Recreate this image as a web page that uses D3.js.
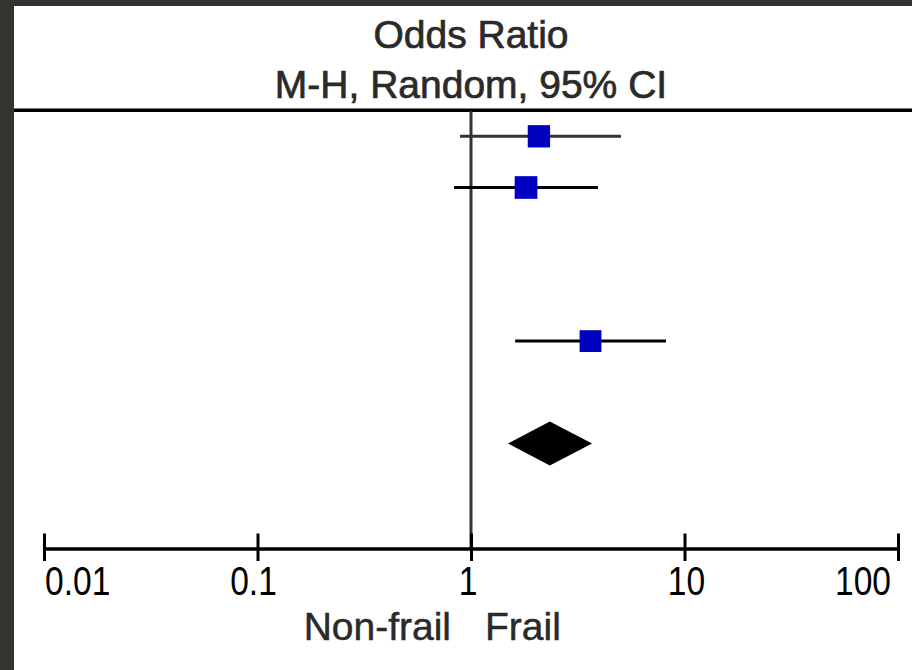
<!DOCTYPE html>
<meta charset="utf-8">
<script src="https://d3js.org/d3.v7.min.js"></script>
<style>
  body { margin: 0; background: #fff; }
  text { font-family: "Liberation Sans", Arial, sans-serif; }
</style>
<div id="forest"></div>
<script>
// study rows (row index in the plot), odds ratios and 95% CI
var studyRows = [0, 1, 4];
var oddsRatio = [2.08, 1.81, 3.63];
var ciLower   = [0.888, 0.833, 1.61];
var ciUpper   = [5.04, 3.93, 8.19];
var weights   = [33.5, 34.5, 32.0];

// pooled estimate (diamond)
var totalRow = 6;
var totalOR = [1.49, 2.34, 3.69]; // lower, estimate, upper

var tickValues = [0.01, 0.1, 1, 10, 100];
var tickLabels = ["0.01", "0.1", "1", "10", "100"];
var headerLines = ["Odds Ratio", "M-H, Random, 95% CI"];
var favourLabels = ["Non-frail", "Frail"];

var width = 912, height = 670;

var svg = d3.select("#forest")
  .append("svg")
    .attr("width", width)
    .attr("height", height);

// dark frame on the left and top
svg.append("rect").attr("x", 0).attr("y", 0).attr("width", width).attr("height", height).attr("fill", "#34342f");
svg.append("rect").attr("x", 14).attr("y", 6).attr("width", width - 14).attr("height", height - 6).attr("fill", "#fff");

var x = d3.scaleLog()
  .domain([0.01, 100])
  .range([44, 898]);

var y = d3.scaleLinear()
  .domain([0, totalRow])
  .range([136.3, 443.5]);

var axisY = 548.5;

// header
svg.selectAll(".head")
  .data(headerLines)
  .enter()
  .append("text")
    .attr("x", x(1))
    .attr("y", function(d, i) { return 48 + i * 50; })
    .attr("text-anchor", "middle")
    .attr("font-size", "39px")
    .attr("fill", "#2a2a2a")
    .attr("stroke", "#2a2a2a")
    .attr("stroke-width", 0.7)
    .text(function(d) { return d; });

svg.append("line")
  .attr("x1", 14).attr("x2", width)
  .attr("y1", 110.2).attr("y2", 110.2)
  .attr("stroke", "#000")
  .attr("stroke-width", 3.4);

// line of no effect
svg.append("line")
  .attr("x1", x(1)).attr("x2", x(1))
  .attr("y1", 111).attr("y2", axisY)
  .attr("stroke", "#333")
  .attr("stroke-width", 3);

// confidence intervals
var studies = studyRows.map(function(r, i) {
  return {row: r, or: oddsRatio[i], lo: ciLower[i], hi: ciUpper[i], w: weights[i]};
});

svg.append("g")
  .selectAll("line")
  .data(studies)
  .enter()
  .append("line")
    .attr("x1", function(d) { return x(d.lo); })
    .attr("x2", function(d) { return x(d.hi); })
    .attr("y1", function(d) { return y(d.row); })
    .attr("y2", function(d) { return y(d.row); })
    .attr("stroke", function(d, i) { return i === 0 ? "#333" : "#000"; })
    .attr("stroke-width", 3);

// weight squares
var size = d3.scaleSqrt().domain([0, 34]).range([0, 22.5]);

svg.append("g")
  .selectAll("rect")
  .data(studies)
  .enter()
  .append("rect")
    .attr("x", function(d) { return x(d.or) - size(d.w) / 2; })
    .attr("y", function(d) { return y(d.row) - size(d.w) / 2; })
    .attr("width", function(d) { return size(d.w); })
    .attr("height", function(d) { return size(d.w); })
    .attr("fill", "#0000c0");

// pooled diamond
var dy = y(totalRow);
svg.append("path")
  .attr("d", "M" + x(totalOR[0]) + "," + dy +
             "L" + x(totalOR[1]) + "," + (dy - 22) +
             "L" + x(totalOR[2]) + "," + dy +
             "L" + x(totalOR[1]) + "," + (dy + 22) + "Z")
  .attr("fill", "#000");

// axis
var axis = svg.append("g")
  .attr("transform", "translate(0," + axisY + ")")
  .call(d3.axisBottom(x).tickValues(tickValues).tickSize(13).tickSizeOuter(0).tickFormat(""));

axis.select(".domain").attr("stroke", "#000").attr("stroke-width", 3.6);
axis.selectAll(".tick line")
  .attr("y1", -15).attr("y2", 12.5)
  .attr("stroke", "#000")
  .attr("stroke-width", 3);

var labelAnchor = ["start", "middle", "middle", "middle", "end"];
var labelShift = [1, -4, -3, 2, -7];

svg.append("g")
  .selectAll("text")
  .data(tickValues)
  .enter()
  .append("text")
    .attr("transform", function(d, i) {
      return "translate(" + (x(d) + labelShift[i]) + ",595) scale(0.84,1)";
    })
    .attr("text-anchor", function(d, i) { return labelAnchor[i]; })
    .attr("font-size", "40px")
    .attr("fill", "#000")
    .text(function(d, i) { return tickLabels[i]; });

// favours labels
svg.append("text")
  .attr("x", x(1) - 20)
  .attr("y", 639.5)
  .attr("text-anchor", "end")
  .attr("font-size", "39px")
  .attr("fill", "#2a2a2a")
  .attr("stroke", "#2a2a2a")
  .attr("stroke-width", 0.5)
  .text(favourLabels[0]);

svg.append("text")
  .attr("x", x(1) + 14)
  .attr("y", 639.5)
  .attr("text-anchor", "start")
  .attr("font-size", "39px")
  .attr("fill", "#2a2a2a")
  .attr("stroke", "#2a2a2a")
  .attr("stroke-width", 0.5)
  .text(favourLabels[1]);
</script>
